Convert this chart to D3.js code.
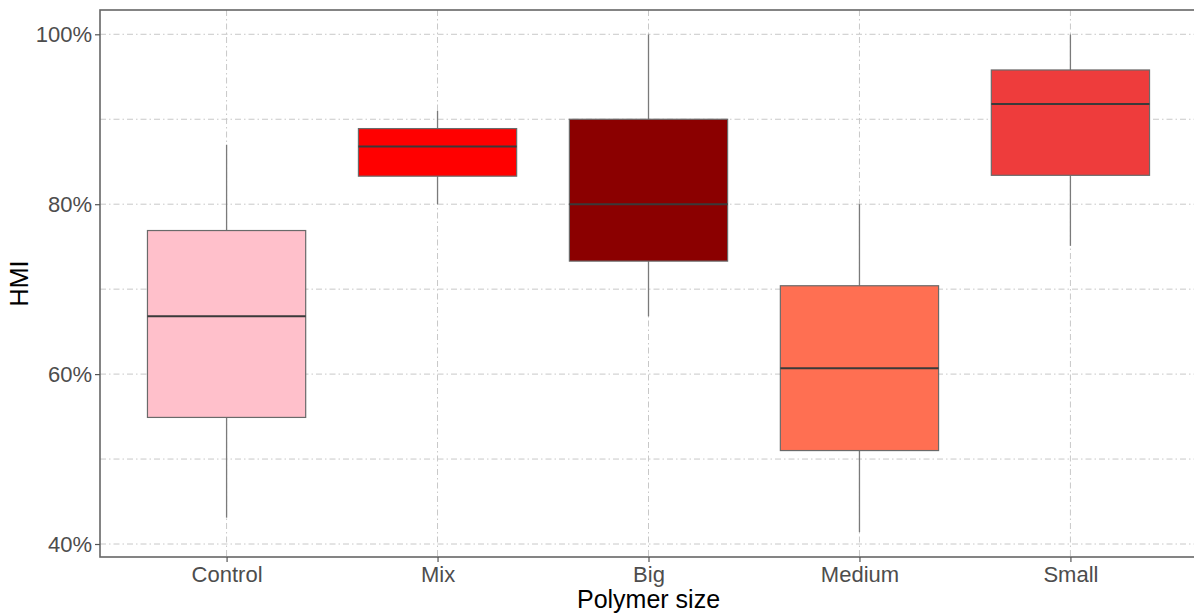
<!DOCTYPE html>
<html>
<head>
<meta charset="utf-8">
<script src="https://cdn.jsdelivr.net/npm/d3@7"></script>
<style>
  html, body { margin: 0; padding: 0; background: #fff; }
  svg { display: block; font-family: "Liberation Sans", Arial, sans-serif; }
</style>
</head>
<body>
<svg id="chart" width="1194" height="615"></svg>
<script>
// ---- data ----
const categories = ["Control", "Mix", "Big", "Medium", "Small"];
const whiskerLow  = [0.431, 0.800, 0.668, 0.414, 0.751];
const q1          = [0.549, 0.833, 0.733, 0.510, 0.834];
const median      = [0.668, 0.868, 0.800, 0.607, 0.918];
const q3          = [0.769, 0.889, 0.900, 0.704, 0.958];
const whiskerHigh = [0.870, 0.910, 1.000, 0.800, 1.000];
const fills       = ["#FFC0CB", "#FF0000", "#8B0000", "#FF6F52", "#EE3C3C"];
const yTicks      = [0.4, 0.6, 0.8, 1.0];
const yMinor      = [0.5, 0.7, 0.9];
const xTitle = "Polymer size";
const yTitle = "HMI";

// ---- layout ----
const panel = { left: 100, right: 1197, top: 10, bottom: 557 };
const svg = d3.select("#chart");

const x = d3.scaleLinear().domain([0.4, categories.length + 0.6]).range([panel.left, panel.right]);
const y = d3.scaleLinear().domain([0.3847, 1.0286]).range([panel.bottom, panel.top]);
const boxW = (x(1) - x(0)) * 0.75;

const grid = svg.append("g");
const gridStyle = sel => sel.attr("stroke", "#c8c8c8").attr("stroke-width", 1).attr("stroke-dasharray", "6,3,1.5,3");

// horizontal grid (major + minor)
grid.selectAll("line.h").data(yTicks.concat(yMinor)).join("line")
  .attr("x1", panel.left).attr("x2", panel.right)
  .attr("y1", d => y(d)).attr("y2", d => y(d))
  .call(gridStyle);
// vertical grid
grid.selectAll("line.v").data(categories).join("line")
  .attr("y1", panel.top).attr("y2", panel.bottom)
  .attr("x1", (d, i) => x(i + 1)).attr("x2", (d, i) => x(i + 1))
  .call(gridStyle);

// boxes
const boxes = svg.append("g").selectAll("g").data(categories).join("g");
boxes.append("line")
  .attr("x1", (d, i) => x(i + 1)).attr("x2", (d, i) => x(i + 1))
  .attr("y1", (d, i) => y(whiskerHigh[i])).attr("y2", (d, i) => y(q3[i]))
  .attr("stroke", "#7a7a7a").attr("stroke-width", 1.3);
boxes.append("line")
  .attr("x1", (d, i) => x(i + 1)).attr("x2", (d, i) => x(i + 1))
  .attr("y1", (d, i) => y(q1[i])).attr("y2", (d, i) => y(whiskerLow[i]))
  .attr("stroke", "#7a7a7a").attr("stroke-width", 1.3);
boxes.append("rect")
  .attr("x", (d, i) => x(i + 1) - boxW / 2)
  .attr("width", boxW)
  .attr("y", (d, i) => y(q3[i]))
  .attr("height", (d, i) => y(q1[i]) - y(q3[i]))
  .attr("fill", (d, i) => fills[i])
  .attr("stroke", "#6a6a6a").attr("stroke-width", 1.2);
boxes.append("line")
  .attr("x1", (d, i) => x(i + 1) - boxW / 2).attr("x2", (d, i) => x(i + 1) + boxW / 2)
  .attr("y1", (d, i) => y(median[i])).attr("y2", (d, i) => y(median[i]))
  .attr("stroke", "#3a3a3a").attr("stroke-width", 2);

// panel border
svg.append("rect")
  .attr("x", panel.left).attr("y", panel.top)
  .attr("width", panel.right - panel.left).attr("height", panel.bottom - panel.top)
  .attr("fill", "none").attr("stroke", "#666").attr("stroke-width", 1.6);

// y axis
const yAxis = d3.axisLeft(y).tickValues(yTicks).tickFormat(d3.format(".0%")).tickSize(5).tickPadding(3);
const gy = svg.append("g").attr("transform", `translate(${panel.left},0)`).call(yAxis);
gy.select(".domain").remove();
gy.selectAll(".tick line").attr("stroke", "#555").attr("stroke-width", 1.2);
gy.selectAll(".tick text").attr("fill", "#4d4d4d").style("font-size", "22px").attr("dy", "0.35em");

// x axis
const xAxis = d3.axisBottom(x).tickValues(d3.range(1, categories.length + 1))
  .tickFormat(d => categories[d - 1]).tickSize(5).tickPadding(4);
const gx = svg.append("g").attr("transform", `translate(0,${panel.bottom})`).call(xAxis);
gx.select(".domain").remove();
gx.selectAll(".tick line").attr("stroke", "#555").attr("stroke-width", 1.2);
gx.selectAll(".tick text").attr("fill", "#4d4d4d").style("font-size", "22px");

// titles
svg.append("text")
  .attr("x", (panel.left + panel.right) / 2).attr("y", 608)
  .attr("text-anchor", "middle").attr("fill", "#000").style("font-size", "25px")
  .text(xTitle);
svg.append("text")
  .attr("transform", `translate(28,${(panel.top + panel.bottom) / 2}) rotate(-90)`)
  .attr("text-anchor", "middle").attr("fill", "#000").style("font-size", "25px")
  .text(yTitle);
</script>
</body>
</html>
